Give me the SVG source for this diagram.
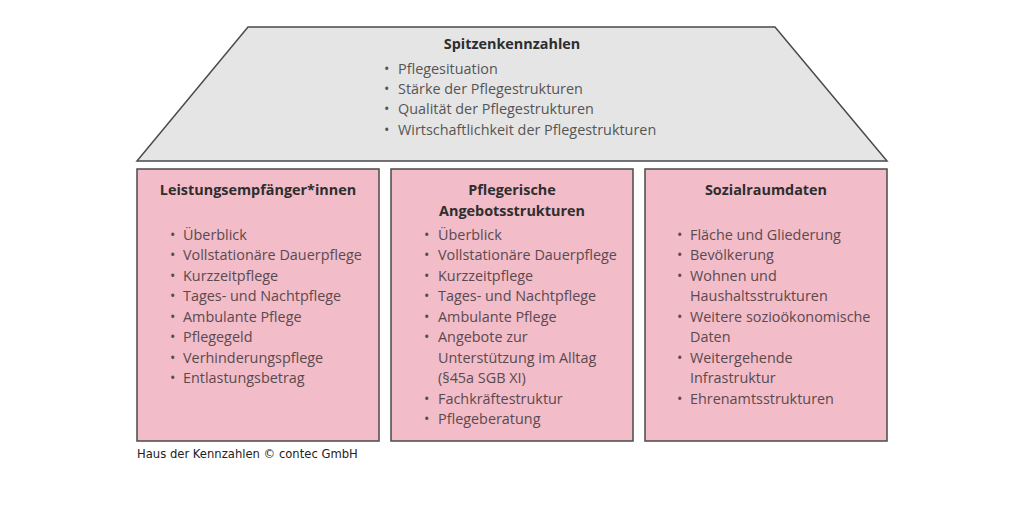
<svg xmlns="http://www.w3.org/2000/svg" width="1024" height="512" viewBox="0 0 1024 512">
<style>
.roof{fill:#e5e5e5;stroke:#4a4a4a;stroke-width:1.5}
.box{fill:#f2bcc8;stroke:#4a4a4a;stroke-width:1.5}
.t{font-family:"Open Sans","DejaVu Sans",sans-serif;font-size:14.4px;font-weight:bold;fill:#2e2e2e;text-anchor:middle}
.i{font-family:"Open Sans","DejaVu Sans",sans-serif;font-size:14.4px;fill:#555}
.bi{fill:#5a4a4f}
.cap{font-family:"DejaVu Sans",Verdana,sans-serif;font-size:11.6px;fill:#222}
</style>
<rect width="1024" height="512" fill="#fff"/>
<g id="roof">
<polygon class="roof" points="248,27 775,27 887,161 137,161"/>
<text class="t" x="512" y="49">Spitzenkennzahlen</text>
<g class="i">
<text x="384" y="74">•</text><text x="398" y="74">Pflegesituation</text>
<text x="384" y="94">•</text><text x="398" y="94">Stärke der Pflegestrukturen</text>
<text x="384" y="114">•</text><text x="398" y="114">Qualität der Pflegestrukturen</text>
<text x="384" y="135">•</text><text x="398" y="135">Wirtschaftlichkeit der Pflegestrukturen</text>
</g>
</g>
<g id="leistungsempfaenger">
<rect class="box" x="137" y="169" width="242" height="272"/>
<text class="t" x="258" y="195">Leistungsempfänger*innen</text>
<g class="i bi">
<text x="170" y="240">•</text><text x="183" y="240">Überblick</text>
<text x="170" y="260">•</text><text x="183" y="260">Vollstationäre Dauerpflege</text>
<text x="170" y="281">•</text><text x="183" y="281">Kurzzeitpflege</text>
<text x="170" y="301">•</text><text x="183" y="301">Tages- und Nachtpflege</text>
<text x="170" y="322">•</text><text x="183" y="322">Ambulante Pflege</text>
<text x="170" y="342">•</text><text x="183" y="342">Pflegegeld</text>
<text x="170" y="363">•</text><text x="183" y="363">Verhinderungspflege</text>
<text x="170" y="383">•</text><text x="183" y="383">Entlastungsbetrag</text>
</g>
</g>
<g id="angebotsstrukturen">
<rect class="box" x="391" y="169" width="242" height="272"/>
<text class="t" x="512" y="195">Pflegerische</text>
<text class="t" x="512" y="216">Angebotsstrukturen</text>
<g class="i bi">
<text x="424" y="240">•</text><text x="438" y="240">Überblick</text>
<text x="424" y="260">•</text><text x="438" y="260">Vollstationäre Dauerpflege</text>
<text x="424" y="281">•</text><text x="438" y="281">Kurzzeitpflege</text>
<text x="424" y="301">•</text><text x="438" y="301">Tages- und Nachtpflege</text>
<text x="424" y="322">•</text><text x="438" y="322">Ambulante Pflege</text>
<text x="424" y="342">•</text><text x="438" y="342">Angebote zur</text>
<text x="438" y="363">Unterstützung im Alltag</text>
<text x="438" y="383">(§45a SGB XI)</text>
<text x="424" y="404">•</text><text x="438" y="404">Fachkräftestruktur</text>
<text x="424" y="424">•</text><text x="438" y="424">Pflegeberatung</text>
</g>
</g>
<g id="sozialraumdaten">
<rect class="box" x="645" y="169" width="242" height="272"/>
<text class="t" x="766" y="195">Sozialraumdaten</text>
<g class="i bi">
<text x="677" y="240">•</text><text x="690" y="240">Fläche und Gliederung</text>
<text x="677" y="260">•</text><text x="690" y="260">Bevölkerung</text>
<text x="677" y="281">•</text><text x="690" y="281">Wohnen und</text>
<text x="690" y="301">Haushaltsstrukturen</text>
<text x="677" y="322">•</text><text x="690" y="322">Weitere sozioökonomische</text>
<text x="690" y="342">Daten</text>
<text x="677" y="363">•</text><text x="690" y="363">Weitergehende</text>
<text x="690" y="383">Infrastruktur</text>
<text x="677" y="404">•</text><text x="690" y="404">Ehrenamtsstrukturen</text>
</g>
</g>
<g id="connectors"/>
<text class="cap" x="137" y="458">Haus der Kennzahlen © contec GmbH</text>
</svg>
